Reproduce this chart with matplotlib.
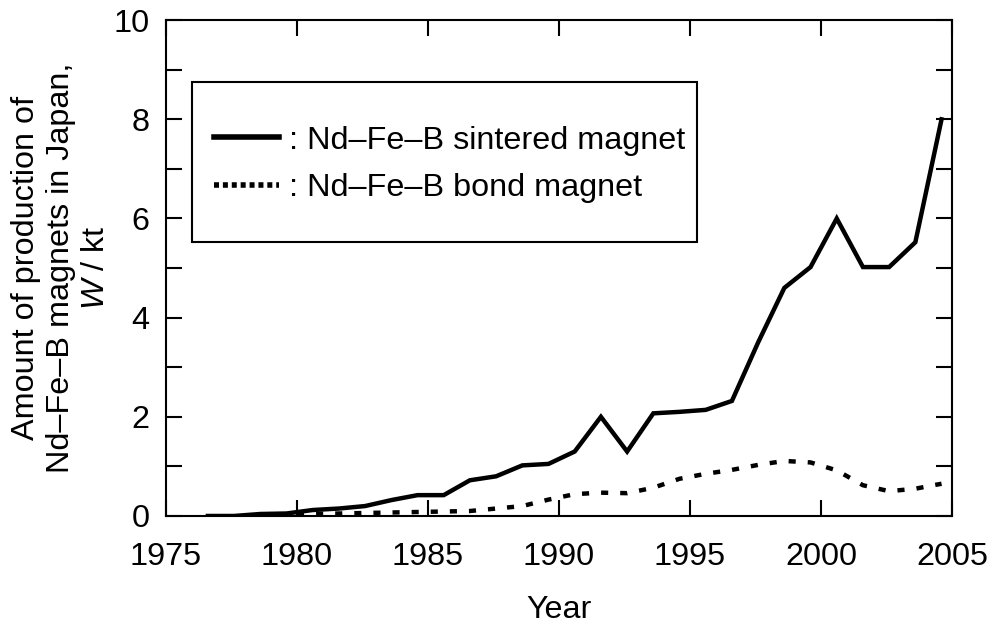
import numpy as np
import matplotlib
matplotlib.use('Agg')
import matplotlib.pyplot as plt
from matplotlib.lines import Line2D
from matplotlib.patches import Rectangle
from matplotlib.ticker import MultipleLocator

plt.rcParams['font.family'] = ['Liberation Sans', 'DejaVu Sans']
plt.rcParams['mathtext.fontset'] = 'custom'
plt.rcParams['mathtext.it'] = 'Liberation Sans:italic'
plt.rcParams['mathtext.rm'] = 'Liberation Sans'

# sintered magnet production (kt), points sit a bit past each year mark
sint_years = [1976.6, 1977.6, 1978.6, 1979.6, 1980.6, 1981.6, 1982.6, 1983.6,
              1984.6, 1985.6, 1986.6, 1987.6, 1988.6, 1989.6, 1990.6, 1991.6,
              1992.6, 1993.6, 1994.6, 1995.6, 1996.6, 1997.6, 1998.6, 1999.6,
              2000.6, 2001.6, 2002.6, 2003.6, 2004.6]
sintered = [0.0, 0.0, 0.04, 0.05, 0.12, 0.15, 0.2, 0.32,
            0.42, 0.42, 0.72, 0.8, 1.02, 1.05, 1.3, 2.0,
            1.3, 2.07, 2.1, 2.14, 2.32, 3.5, 4.6, 5.02,
            6.0, 5.02, 5.02, 5.52, 8.0]

# bond magnet production (kt)
bond_years = [1980.0, 1980.6, 1981.6, 1982.6, 1983.6, 1984.6, 1985.6, 1986.6,
              1987.6, 1988.6, 1989.6, 1990.6, 1991.6, 1992.6, 1993.6, 1994.6,
              1995.6, 1996.6, 1997.6, 1998.6, 1999.6, 2000.6, 2001.6, 2002.6,
              2003.6, 2004.6]
bond = [0.03, 0.04, 0.05, 0.06, 0.07, 0.08, 0.09, 0.1,
        0.15, 0.2, 0.33, 0.44, 0.47, 0.46, 0.57, 0.75,
        0.85, 0.93, 1.03, 1.11, 1.08, 0.92, 0.62, 0.5,
        0.55, 0.65]

labels = [': Nd\u2013Fe\u2013B sintered magnet', ': Nd\u2013Fe\u2013B bond magnet']

fs = 23.3

fig = plt.figure(figsize=(9.92, 6.3), dpi=100)
ax = fig.add_axes([0.1673, 0.181, 0.7924, 0.787])

ax.plot(sint_years, sintered, color='black', lw=3.2, solid_joinstyle='miter')
ax.plot(bond_years, bond, color='black', lw=3.2, linestyle=(0, (1.6, 2.7)))

ax.set_xlim(1975, 2005)
ax.set_ylim(0, 10)
ax.xaxis.set_major_locator(MultipleLocator(5))
ax.yaxis.set_major_locator(MultipleLocator(2))
ax.yaxis.set_minor_locator(MultipleLocator(1))
ax.tick_params(which='both', direction='in', top=True, right=True,
               length=11.5, width=1.5, labelsize=fs)
ax.tick_params(axis='x', pad=19)
ax.tick_params(axis='y', pad=12)
for s in ax.spines.values():
    s.set_linewidth(1.5)

ax.set_xlabel('Year', fontsize=fs)
ax.xaxis.label.set_va('center')
ax.xaxis.set_label_coords(0.5, -0.19)
ax.set_ylabel('Amount of production of\nNd\u2013Fe\u2013B magnets in Japan,\n$W$ / kt',
              fontsize=fs, linespacing=1.2)
ax.yaxis.label.set_va('center')
ax.yaxis.set_label_coords(-0.1336, 0.5)

# legend box
ax.add_patch(Rectangle((0.033, 0.552), 0.643, 0.323, transform=ax.transAxes,
                       fill=False, edgecolor='black', lw=1.5, zorder=5))
handles = [Line2D([], [], color='black', lw=4),
           Line2D([], [], color='black', lw=4, linestyle=(0, (0.9, 0.7)))]
ax.legend(handles, labels, loc='upper left', bbox_to_anchor=(0.0615, 0.787),
          frameon=False, fontsize=fs, handlelength=2.0, handletextpad=0.3,
          labelspacing=0.53, borderpad=0, borderaxespad=0)

fig.savefig('out.png', dpi=100)
